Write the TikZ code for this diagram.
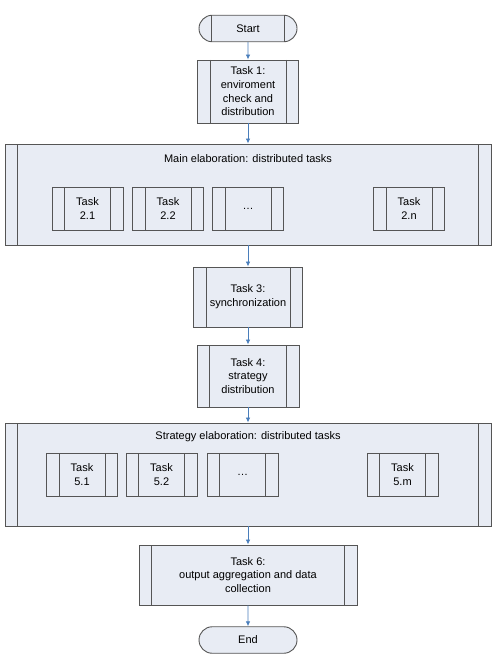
\documentclass[tikz,border=0pt]{standalone}
\usepackage{fontspec}
\setmainfont{Liberation Sans}
\usetikzlibrary{arrows.meta,shapes.misc}
\definecolor{boxfill}{RGB}{232,236,244}
\definecolor{boxline}{RGB}{85,85,85}
\definecolor{flowblue}{RGB}{74,126,187}
\tikzset{
    sidelines/.style={path picture={%
            \draw[boxline, line width=0.9pt]
                ([xshift=12.5pt]path picture bounding box.north west) -- ([xshift=12.5pt]path picture bounding box.south west)
                ([xshift=-12.5pt]path picture bounding box.north east) -- ([xshift=-12.5pt]path picture bounding box.south east);
        }},
    proc/.style={draw=boxline, fill=boxfill, line width=0.9pt, align=center,
        inner sep=1pt, minimum width=#1, sidelines},
    term/.style={draw=boxline, fill=boxfill, line width=0.9pt, rounded rectangle,
        minimum width=100pt, minimum height=26.5pt, inner sep=1pt},
    flow/.style={draw=flowblue, line width=0.8pt, -{Latex[length=5pt,width=4.5pt]}}
}
\begin{document}
\begin{tikzpicture}[x=1pt, y=-1pt, font=\fontsize{11}{13.7}\selectfont]
\useasboundingbox (0,0) rectangle (497,669);
% main chain
\node[term, sidelines] (start) at (248,28.5) {Start};
\node[proc=101pt, minimum height=63pt] (t1) at (248,91.5) {Task 1:\\enviroment\\check and\\distribution};
\node[proc=486pt, minimum height=101pt] (main) at (248,194.5) {};
\node (maintitle) at (248,159) {Main elaboration: distributed tasks};
\node[proc=109pt, minimum height=60pt] (t3) at (248,297) {Task 3:\\synchronization};
\node[proc=102pt, minimum height=62pt] (t4) at (248,376) {Task 4:\\strategy\\distribution};
\node[proc=486pt, minimum height=103pt] (strat) at (248,474.5) {};
\node (strattitle) at (248,437) {Strategy elaboration: distributed tasks};
\node[proc=218pt, minimum height=60pt] (t6) at (248,575) {Task 6:\\output aggregation and data\\collection};
\node[term] (end) at (248,640) {End};
% distributed tasks
\foreach \x/\label/\name in {87.5/Task\\2.1/a, 168/Task\\2.2/b, 248/\dots/c, 409/Task\\2.n/n} {%
\node[proc=71pt, minimum height=43pt] (t2\name) at (\x,208.5) {\label};
};
\foreach \x/\label/\name in {82/Task\\5.1/a, 161.5/Task\\5.2/b, 242.5/\dots/c, 402.5/Task\\5.m/m} {%
\node[proc=71pt, minimum height=43pt] (t5\name) at (\x,474.5) {\label};
};
% arrows
\foreach \a/\b in {start/t1, t1/main, main/t3, t3/t4, t4/strat, strat/t6, t6/end} {%
\draw[flow] (\a) -- (\b);
};
\end{tikzpicture}
\end{document}
